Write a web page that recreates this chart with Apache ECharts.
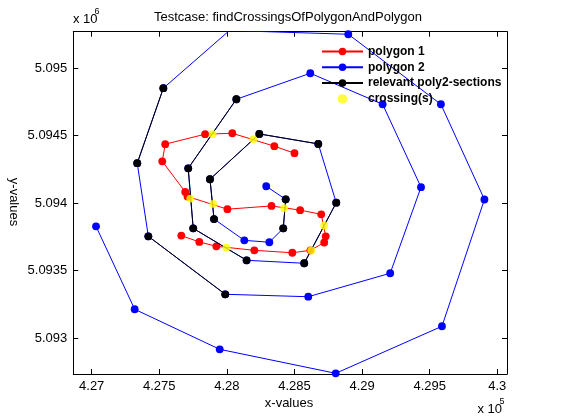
<!DOCTYPE html>
<html>
<head>
<meta charset="utf-8">
<script src="https://cdn.jsdelivr.net/npm/echarts@6/dist/echarts.min.js"></script>
<style>
html,body{margin:0;padding:0;background:#fff;}
#chart{width:561px;height:420px;}
</style>
</head>
<body>
<div id="chart"></div>
<script>
// ---- data ----
var poly1X = [428500, 428351, 428040, 427839, 427544, 427522, 427692, 427709, 428004, 428330, 428542, 428698, 428731, 428720, 428618, 428484, 428203, 427922, 427796, 427663];
var poly1Y = [5094370, 5094422, 5094518, 5094511, 5094437, 5094310, 5094083, 5094049, 5093955, 5093979, 5093948, 5093917, 5093754, 5093708, 5093650, 5093632, 5093650, 5093680, 5093712, 5093759];

var poly2X = [427032, 427318, 427947, 428805, 429591, 429905, 429583, 428898, 428019, 427530, 427337, 427419, 427988, 428602, 429208, 429436, 429152, 428617, 428070, 427714, 427751, 428146, 428572, 428809, 428676, 428240, 427875, 427905, 428129, 428314, 428417, 428435, 428291];
var poly2Y = [5093828, 5093213, 5092916, 5092738, 5093087, 5094027, 5094733, 5095252, 5095280, 5094852, 5094296, 5093754, 5093324, 5093306, 5093480, 5094118, 5094733, 5094963, 5094770, 5094258, 5093813, 5093576, 5093554, 5094003, 5094439, 5094513, 5094177, 5093882, 5093724, 5093710, 5093813, 5094028, 5094125];

// relevant sections of polygon 2 (start/end vertex index, inclusive)
var relevantSections = [[9, 10], [11, 12], [18, 21], [22, 23], [24, 27], [30, 31]];

var crossX = [427895, 428195, 427729, 427899, 428424, 428720, 428624, 427996];
var crossY = [5094511, 5094473, 5094034, 5093994, 5093962, 5093834, 5093649, 5093670];

var xTicks = [427000, 427500, 428000, 428500, 429000, 429500, 430000];
var yTicks = [5093000, 5093500, 5094000, 5094500, 5095000];
var xRange = [426864, 430072];
var yRange = [5092733, 5095271];

var seriesNames = ['polygon 1', 'polygon 2', 'relevant poly2-sections', 'crossing(s)'];

// ---- build ----
function zip(xs, ys) { return xs.map(function (x, i) { return [x, ys[i]]; }); }
var poly1 = zip(poly1X, poly1Y);
var poly2 = zip(poly2X, poly2Y);
var sections = [];
relevantSections.forEach(function (s, k) {
  if (k > 0) sections.push(['-', '-']);
  for (var i = s[0]; i <= s[1]; i++) sections.push(poly2[i]);
});
var cross = zip(crossX, crossY);

var FONT = '"Liberation Sans", Arial, Helvetica, sans-serif';
var MS = 7.8;
function fmt(v, e) { return String(parseFloat((v / e).toFixed(5))); }

var chart = echarts.init(document.getElementById('chart'), null, { renderer: 'canvas' });
var axisCommon = {
  type: 'value',
  scale: true,
  axisLine: { show: true, onZero: false, lineStyle: { color: '#000', width: 1 } },
  splitLine: { show: false }
};
var option = {
  backgroundColor: '#fff',
  animation: false,
  grid: { left: 73.3, top: 31.7, width: 433.7, height: 342.3, containLabel: false, outerBoundsMode: 'none' },
  xAxis: [
    Object.assign({}, axisCommon, {
      position: 'bottom', min: xRange[0], max: xRange[1],
      axisTick: { show: true, inside: true, length: 5, lineStyle: { color: '#000' }, customValues: xTicks },
      axisLabel: { show: true, customValues: xTicks, color: '#000', fontFamily: FONT, fontSize: 13, margin: 6,
        formatter: function (v) { return fmt(v, 1e5); } }
    }),
    Object.assign({}, axisCommon, {
      position: 'top', min: xRange[0], max: xRange[1],
      axisTick: { show: true, inside: true, length: 5, lineStyle: { color: '#000' }, customValues: xTicks },
      axisLabel: { show: false }
    })
  ],
  yAxis: [
    Object.assign({}, axisCommon, {
      position: 'left', min: yRange[0], max: yRange[1],
      axisTick: { show: true, inside: true, length: 5, lineStyle: { color: '#000' }, customValues: yTicks },
      axisLabel: { show: true, customValues: yTicks, color: '#000', fontFamily: FONT, fontSize: 13, margin: 6,
        formatter: function (v) { return fmt(v, 1e6); } }
    }),
    Object.assign({}, axisCommon, {
      position: 'right', min: yRange[0], max: yRange[1],
      axisTick: { show: true, inside: true, length: 5, lineStyle: { color: '#000' }, customValues: yTicks },
      axisLabel: { show: false }
    })
  ],
  legend: {
    data: seriesNames,
    orient: 'vertical',
    left: 321, top: 45.5,
    itemWidth: 41, itemHeight: 9.5, itemGap: 3.8,
    padding: 0,
    textStyle: { color: '#000', fontFamily: FONT, fontSize: 12, fontWeight: 'bold' },
    selectedMode: false
  },
  graphic: [
    { type: 'text', x: 288, y: 17, style: { text: 'Testcase: findCrossingsOfPolygonAndPolygon', fill: '#000', font: '13px ' + FONT, textAlign: 'center', textVerticalAlign: 'middle' } },
    { type: 'text', x: 73, y: 19, style: { text: 'x 10', fill: '#000', font: '13px ' + FONT, textAlign: 'left', textVerticalAlign: 'middle' } },
    { type: 'text', x: 94.5, y: 12, style: { text: '6', fill: '#000', font: '9px ' + FONT, textAlign: 'left', textVerticalAlign: 'middle' } },
    { type: 'text', x: 289, y: 403, style: { text: 'x-values', fill: '#000', font: '13px ' + FONT, textAlign: 'center', textVerticalAlign: 'middle' } },
    { type: 'text', x: 477.5, y: 409, style: { text: 'x 10', fill: '#000', font: '13px ' + FONT, textAlign: 'left', textVerticalAlign: 'middle' } },
    { type: 'text', x: 499.5, y: 401.5, style: { text: '5', fill: '#000', font: '9px ' + FONT, textAlign: 'left', textVerticalAlign: 'middle' } },
    { type: 'text', x: 13.5, y: 202, rotation: -Math.PI / 2, style: { text: 'y-values', fill: '#000', font: '13px ' + FONT, textAlign: 'center', textVerticalAlign: 'middle' } }
  ],
  series: [
    { name: seriesNames[0], type: 'line', z: 2, data: poly1, symbol: 'circle', symbolSize: MS, showSymbol: true, showAllSymbol: true,
      itemStyle: { color: '#ff0000' }, lineStyle: { color: '#ff0000', width: 1 }, silent: true, clip: true },
    { name: seriesNames[1], type: 'line', z: 3, data: poly2, symbol: 'circle', symbolSize: MS, showSymbol: true, showAllSymbol: true,
      itemStyle: { color: '#0000ff' }, lineStyle: { color: '#0000ff', width: 1 }, silent: true, clip: true },
    { name: seriesNames[2], type: 'line', z: 4, data: sections, symbol: 'circle', symbolSize: MS, showSymbol: true, showAllSymbol: true, connectNulls: false,
      itemStyle: { color: '#000000' }, lineStyle: { color: '#000000', width: 1 }, silent: true, clip: true },
    { name: seriesNames[3], type: 'scatter', z: 6, data: cross, symbol: 'circle', symbolSize: MS,
      itemStyle: { color: '#ffff00' }, silent: true, clip: true }
  ]
};
chart.setOption(option);
</script>
</body>
</html>
